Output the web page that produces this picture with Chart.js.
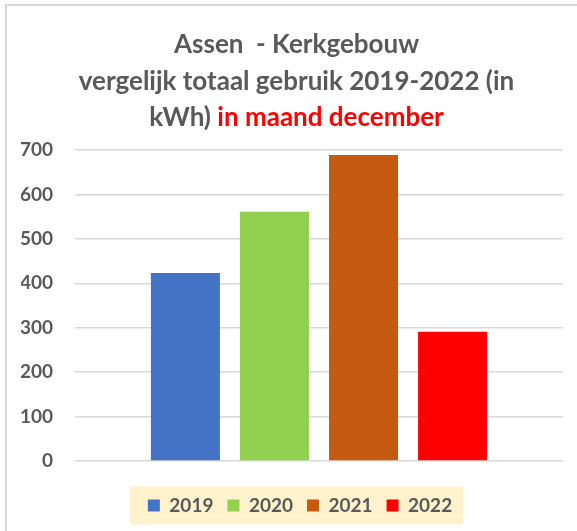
<!DOCTYPE html>
<html lang="nl">
<head>
    <meta charset="UTF-8">
    <title>Assen - Kerkgebouw december</title>
    <style>
        body {
            margin: 0;
            background-color: #fff;
            font-family: Lato, "Open Sans", sans-serif;
        }
        .frame {
            position: absolute;
            left: 5px;
            top: 4px;
            width: 620px;
            height: 580px;
            border: 2px solid #d9d9d9;
        }
        .wrap {
            position: absolute;
            left: 0;
            top: 0;
            width: 577px;
            height: 531px;
        }
        .title {
            position: absolute;
            left: 0;
            top: 25px;
            width: 593px;
            text-align: center;
            font-size: 26px;
            line-height: 36.7px;
            font-weight: bold;
            color: #595959;
        }
        .title .red {
            color: #ff0000;
        }
    </style>
</head>
<body>
    <div class="frame"></div>
    <div class="wrap">
        <canvas id="chart"></canvas>
    </div>
    <div class="title">
        Assen&nbsp; - Kerkgebouw<br>
        vergelijk totaal gebruik 2019-2022 (in<br>
        kWh) <span class="red">in maand december</span>
    </div>

    <script src="https://cdn.jsdelivr.net/npm/chart.js"></script>
    <script>
        // data (kWh, december)
        const categories = [''];
        const years = ['2019', '2020', '2021', '2022'];
        const usage = [423, 561, 689, 291];
        const colors = ['#4472c4', '#92d050', '#c55a11', '#ff0000'];
        const yTicks = [0, 100, 200, 300, 400, 500, 600, 700];

        const textColor = '#595959';
        const legendShift = 8;

        // beige box behind the legend, legend moved a bit to the right
        const legendBackground = {
            id: 'legendBackground',
            afterLayout(chart) {
                chart.legend.left += legendShift;
                chart.legend.right += legendShift;
            },
            beforeDraw(chart) {
                const boxes = chart.legend.legendHitBoxes;
                if (!boxes || !boxes.length) return;
                const left = Math.min(...boxes.map(b => b.left));
                const right = Math.max(...boxes.map(b => b.left + b.width));
                const mid = boxes[0].top + boxes[0].height / 2;
                const ctx = chart.ctx;
                ctx.save();
                ctx.fillStyle = '#fff2cc';
                ctx.fillRect(left - 18, mid - 19, right - left + 29, 38);
                ctx.restore();
            }
        };

        const ctx = document.getElementById('chart').getContext('2d');
        new Chart(ctx, {
            type: 'bar',
            data: {
                labels: categories,
                datasets: years.map((y, i) => ({
                    label: y,
                    data: [usage[i]],
                    backgroundColor: colors[i],
                    borderWidth: 0
                }))
            },
            options: {
                responsive: true,
                maintainAspectRatio: false,
                animation: false,
                layout: {
                    padding: { top: 150, left: 21, right: 14, bottom: 6 }
                },
                datasets: {
                    bar: {
                        categoryPercentage: 0.73,
                        barPercentage: 0.775
                    }
                },
                plugins: {
                    title: { display: false },
                    tooltip: { enabled: false },
                    legend: {
                        position: 'bottom',
                        labels: {
                            color: textColor,
                            font: { family: 'Lato', size: 19, weight: 'bold' },
                            boxWidth: 12,
                            boxHeight: 12,
                            padding: 14
                        }
                    }
                },
                scales: {
                    x: {
                        ticks: { display: false },
                        grid: { display: false },
                        border: { display: false },
                        afterFit(axis) { axis.height = 21; }
                    },
                    y: {
                        min: 0,
                        max: 700,
                        afterBuildTicks(axis) {
                            axis.ticks = yTicks.map(v => ({ value: v }));
                        },
                        afterFit(axis) { axis.width = 54; },
                        ticks: {
                            color: textColor,
                            padding: 22,
                            font: { family: 'Lato', size: 19, weight: 'bold' }
                        },
                        grid: {
                            color: '#d9d9d9',
                            lineWidth: 1.5,
                            drawTicks: false
                        },
                        border: { display: false }
                    }
                }
            },
            plugins: [legendBackground]
        });
    </script>
</body>
</html>
